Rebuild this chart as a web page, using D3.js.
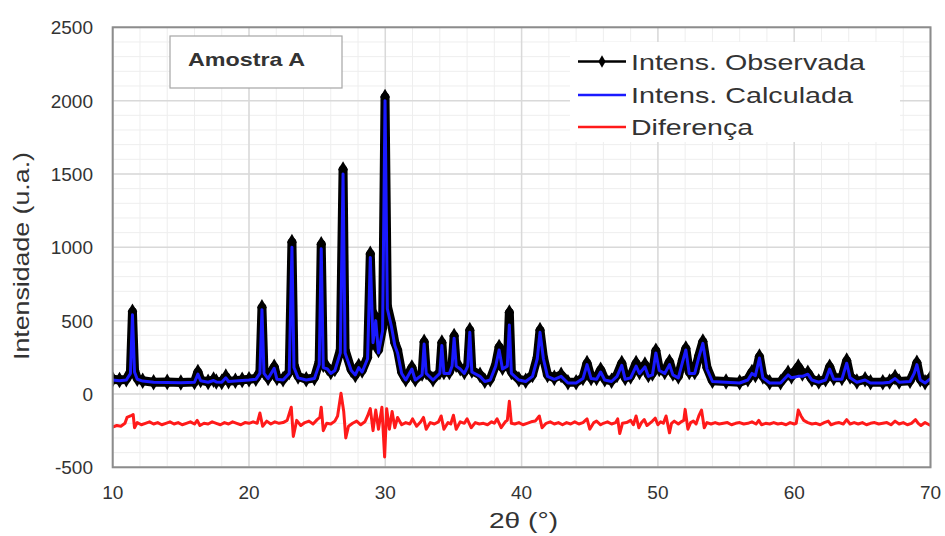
<!DOCTYPE html>
<meta charset="utf-8">
<head>
  <script src="https://d3js.org/d3.v7.min.js"></script>
  <style>
    body { margin: 0; background: #fff; }
    text { font-family: "Liberation Sans", Arial, sans-serif; fill: #333; }
  </style>
</head>
<body>
<div id="container"></div>
<script>
// 2theta positions and intensities
var theta = [
  10.0, 10.5, 11.0, 11.3, 11.45, 11.6, 11.8, 12.2, 13.0, 14.0,
  15.0, 16.0, 16.25, 16.45, 17.0, 17.4, 17.6, 18.0, 18.3, 18.5,
  19.0, 19.5, 20.0, 20.5, 20.8, 20.95, 21.1, 21.4, 21.85, 22.05,
  22.5, 22.95, 23.15, 23.3, 23.6, 24.2, 24.8, 25.15, 25.3, 25.45,
  25.75, 26.0, 26.3, 26.7, 26.9, 27.05, 27.5, 27.8, 28.05, 28.3,
  28.7, 28.9, 29.1, 29.3, 29.5, 29.8, 29.98, 30.15, 30.45, 30.7,
  30.9, 31.2, 31.5, 31.95, 32.2, 32.7, 32.85, 33.0, 33.5, 34.0,
  34.15, 34.3, 34.7, 34.9, 35.05, 35.2, 35.5, 35.8, 36.05, 36.2,
  36.35, 36.95, 37.3, 37.7, 38.1, 38.35, 38.6, 38.95, 39.1, 39.25,
  39.8, 40.3, 40.8, 41.15, 41.35, 41.6, 41.9, 42.4, 42.9, 43.4,
  44.0, 44.5, 44.8, 45.1, 45.5, 45.8, 46.1, 46.6, 47.0, 47.35,
  47.6, 48.0, 48.4, 48.65, 49.05, 49.3, 49.6, 49.85, 50.1, 50.5,
  50.85, 51.1, 51.5, 51.8, 52.05, 52.3, 52.7, 53.0, 53.3, 53.6,
  54.0, 55.0, 56.0, 56.6, 56.9, 57.15, 57.45, 57.7, 58.2, 59.0,
  59.55, 59.8, 60.3, 60.6, 61.0, 61.3, 61.8, 62.3, 62.6, 62.9,
  63.5, 63.85, 64.1, 64.6, 65.2, 65.6, 66.5, 67.0, 67.4, 67.7,
  68.5, 68.8, 69.0, 69.25, 69.6, 70.0
];
var observed = [
  100, 95, 100, 150, 560, 160, 105, 90, 80, 82,
  78, 82, 150, 95, 82, 98, 85, 82, 118, 88,
  90, 96, 100, 105, 150, 590, 150, 110, 185, 110,
  100, 150, 1035, 200, 120, 100, 110, 220, 1020, 200,
  180, 150, 170, 300, 1530, 300, 165, 130, 190, 160,
  250, 955, 350, 525, 300, 450, 2025, 600, 480, 350,
  300, 150, 100, 180, 100, 140, 355, 150, 100, 150,
  350, 150, 150, 200, 395, 200, 175, 150, 200, 435,
  160, 130, 90, 100, 200, 320, 180, 200, 555, 150,
  100, 90, 130, 250, 435, 250, 130, 110, 130, 80,
  80, 110, 210, 110, 110, 165, 100, 90, 130, 210,
  110, 120, 210, 150, 200, 130, 140, 295, 170, 150,
  220, 140, 120, 230, 310, 150, 150, 260, 357, 180,
  90, 85, 80, 100, 150, 130, 255, 120, 80, 80,
  145, 120, 186, 140, 145, 100, 85, 100, 185, 110,
  110, 227, 120, 85, 100, 80, 80, 85, 115, 85,
  90, 150, 213, 100, 80, 110
];
var calculated = [
  95, 90, 95, 140, 540, 150, 100, 88, 80, 78,
  76, 80, 135, 90, 80, 92, 82, 80, 110, 85,
  88, 92, 95, 100, 140, 575, 140, 105, 175, 100,
  95, 140, 1000, 180, 110, 95, 105, 200, 990, 180,
  170, 140, 160, 280, 1500, 280, 160, 130, 180, 150,
  240, 930, 350, 500, 280, 430, 2000, 580, 460, 330,
  280, 140, 95, 170, 95, 130, 340, 140, 95, 140,
  330, 140, 140, 190, 380, 190, 170, 140, 190, 420,
  150, 120, 85, 95, 190, 300, 170, 190, 470, 140,
  95, 85, 120, 240, 420, 240, 120, 100, 120, 75,
  75, 105, 200, 105, 100, 150, 95, 85, 120, 195,
  100, 110, 190, 140, 185, 120, 130, 280, 160, 140,
  200, 130, 110, 215, 300, 140, 140, 250, 345, 170,
  85, 80, 75, 95, 140, 125, 245, 110, 75, 75,
  130, 110, 120, 120, 135, 95, 80, 95, 170, 100,
  100, 210, 110, 80, 95, 75, 75, 80, 105, 80,
  85, 140, 200, 95, 75, 105
];

// difference curve (drawn offset below zero)
var diffTheta = [
  10.0, 10.3, 10.6, 10.9, 11.05, 11.3, 11.5, 11.6, 11.8, 12.1,
  12.4, 12.7, 13.0, 13.3, 13.6, 13.9, 14.2, 14.5, 14.8, 15.1,
  15.4, 15.7, 16.0, 16.2, 16.4, 16.7, 17.0, 17.3, 17.6, 17.9,
  18.2, 18.5, 18.8, 19.1, 19.4, 19.7, 20.0, 20.3, 20.6, 20.8,
  21.0, 21.3, 21.6, 21.9, 22.2, 22.5, 22.8, 23.1, 23.25, 23.5,
  23.8, 24.1, 24.4, 24.7, 25.0, 25.2, 25.3, 25.45, 25.7, 26.0,
  26.3, 26.5, 26.75, 26.95, 27.1, 27.3, 27.6, 27.9, 28.2, 28.5,
  28.7, 28.9, 29.1, 29.3, 29.5, 29.75, 29.95, 30.1, 30.3, 30.5,
  30.7, 30.9, 31.2, 31.5, 31.8, 32.0, 32.3, 32.6, 32.8, 33.0,
  33.3, 33.6, 33.9, 34.1, 34.3, 34.6, 34.8, 35.0, 35.2, 35.5,
  35.8, 36.0, 36.3, 36.6, 36.9, 37.2, 37.5, 37.8, 38.0, 38.2,
  38.5, 38.8, 38.95, 39.1, 39.25, 39.5, 39.8, 40.1, 40.4, 40.7,
  41.0, 41.3, 41.5, 41.8, 42.1, 42.4, 42.7, 43.0, 43.3, 43.6,
  43.9, 44.2, 44.5, 44.8, 45.0, 45.3, 45.5, 45.8, 46.0, 46.3,
  46.6, 46.9, 47.05, 47.2, 47.4, 47.7, 48.0, 48.2, 48.4, 48.6,
  48.8, 49.0, 49.2, 49.4, 49.6, 49.8, 50.0, 50.2, 50.4, 50.6,
  50.85, 51.0, 51.2, 51.5, 51.7, 51.9, 52.0, 52.2, 52.4, 52.6,
  52.8, 53.0, 53.2, 53.4, 53.6, 53.9, 54.2, 54.5, 54.8, 55.1,
  55.4, 55.7, 56.0, 56.3, 56.6, 56.9, 57.2, 57.4, 57.6, 57.9,
  58.2, 58.5, 58.8, 59.1, 59.4, 59.7, 60.0, 60.15, 60.3, 60.5,
  60.7, 61.0, 61.3, 61.6, 61.9, 62.2, 62.5, 62.7, 63.0, 63.3,
  63.6, 63.85, 64.1, 64.4, 64.7, 65.0, 65.3, 65.6, 65.9, 66.2,
  66.5, 66.8, 67.1, 67.4, 67.7, 68.0, 68.3, 68.6, 68.9, 69.1,
  69.3, 69.6, 69.8, 70.0
];
var difference = [
  -225, -215, -220, -200, -160, -150, -140, -230, -195, -210,
  -200, -190, -205, -195, -210, -200, -190, -205, -195, -210,
  -200, -190, -205, -180, -215, -200, -205, -190, -200, -210,
  -195, -205, -190, -200, -210, -195, -200, -190, -200, -130,
  -220, -185, -205, -190, -200, -195, -180, -90, -290, -180,
  -215, -195, -185, -205, -175, -160, -90, -250, -200, -205,
  -185, -150, 5, -120, -300, -220, -200, -185, -210, -190,
  -150, -100, -250, -110, -240, -90, -430, -100, -240, -120,
  -230, -160, -210, -195, -205, -170, -220, -190, -160, -240,
  -195, -205, -190, -150, -240, -195, -205, -145, -240, -190,
  -200, -170, -230, -195, -205, -200, -210, -190, -200, -170,
  -230, -190, -180, -50, -200, -205, -195, -210, -200, -190,
  -185, -150, -230, -200, -190, -205, -195, -210, -195, -205,
  -190, -205, -195, -170, -240, -195, -185, -210, -200, -190,
  -205, -195, -170, -270, -200, -195, -180, -210, -150, -230,
  -195, -175, -215, -200, -185, -165, -210, -190, -200, -150,
  -265, -200, -185, -205, -190, -180, -105, -240, -195, -185,
  -205, -150, -110, -230, -195, -205, -195, -205, -200, -195,
  -210, -200, -195, -205, -200, -190, -205, -180, -210, -200,
  -205, -195, -205, -200, -210, -195, -205, -200, -110, -150,
  -180, -195, -205, -200, -210, -195, -185, -210, -200, -195,
  -205, -175, -205, -195, -205, -195, -210, -200, -195, -205,
  -200, -195, -210, -185, -205, -195, -210, -200, -175, -200,
  -215, -195, -205, -215
];

var xTicks = [10, 20, 30, 40, 50, 60, 70];
var yTicks = [-500, 0, 500, 1000, 1500, 2000, 2500];
var legendNames = ["Intens. Observada", "Intens. Calculada", "Diferença"];
var legendColors = ["#000000", "#1a1aff", "#ff1a1a"];

var width = 945, height = 536;
var plotLeft = 112.7, plotRight = 930.5, plotTop = 27.3, plotBottom = 467.3;

var svg = d3.select("#container").append("svg")
  .attr("width", width)
  .attr("height", height);

var x = d3.scaleLinear().domain([10, 70]).range([plotLeft, plotRight]);
var y = d3.scaleLinear().domain([-500, 2500]).range([plotBottom, plotTop]);

svg.append("defs").append("clipPath").attr("id", "plotClip")
  .append("rect")
  .attr("x", plotLeft).attr("y", plotTop)
  .attr("width", plotRight - plotLeft).attr("height", plotBottom - plotTop);

// minor then major grid
var grid = svg.append("g");
grid.selectAll(".vminor").data(d3.range(12, 70, 2))
  .enter().append("line")
  .attr("x1", d => x(d)).attr("x2", d => x(d))
  .attr("y1", plotTop).attr("y2", plotBottom)
  .attr("stroke", "#eeeeee").attr("stroke-width", 1);
grid.selectAll(".hminor").data(d3.range(-400, 2500, 100))
  .enter().append("line")
  .attr("y1", d => y(d)).attr("y2", d => y(d))
  .attr("x1", plotLeft).attr("x2", plotRight)
  .attr("stroke", "#eeeeee").attr("stroke-width", 1);
grid.selectAll(".vmajor").data(xTicks)
  .enter().append("line")
  .attr("x1", d => x(d)).attr("x2", d => x(d))
  .attr("y1", plotTop).attr("y2", plotBottom)
  .attr("stroke", "#d9d9d9").attr("stroke-width", 1.5);
grid.selectAll(".hmajor").data(yTicks)
  .enter().append("line")
  .attr("y1", d => y(d)).attr("y2", d => y(d))
  .attr("x1", plotLeft).attr("x2", plotRight)
  .attr("stroke", "#d9d9d9").attr("stroke-width", 1.5);

// sample label box and legend background
svg.append("rect")
  .attr("x", 170).attr("y", 36).attr("width", 172).attr("height", 52)
  .attr("fill", "#fff").attr("stroke", "#a6a6a6").attr("stroke-width", 1.2);
svg.append("text")
  .attr("x", 188).attr("y", 66)
  .attr("font-size", 19).attr("font-weight", "bold")
  .attr("textLength", 117).attr("lengthAdjust", "spacingAndGlyphs")
  .attr("fill", "#222")
  .text("Amostra A");

svg.append("rect")
  .attr("x", 570).attr("y", 42).attr("width", 330).attr("height", 100)
  .attr("fill", "#fff");

// series
var plot = svg.append("g").attr("clip-path", "url(#plotClip)");
var obsPts = theta.map((t, i) => [t, observed[i]]);
var calcPts = theta.map((t, i) => [t, calculated[i]]);
var diffPts = diffTheta.map((t, i) => [t, difference[i]]);

var line = d3.line().x(d => x(d[0])).y(d => y(d[1]));

plot.append("path").datum(obsPts)
  .attr("d", line)
  .attr("fill", "none").attr("stroke", "#000")
  .attr("stroke-width", 9).attr("stroke-linejoin", "round");
plot.selectAll(".obs").data(obsPts)
  .enter().append("path")
  .attr("transform", d => "translate(" + x(d[0]) + "," + y(d[1]) + ")")
  .attr("d", d3.symbol().type(d3.symbolDiamond).size(80))
  .attr("fill", "#000");
plot.append("path").datum(calcPts)
  .attr("d", line)
  .attr("fill", "none").attr("stroke", legendColors[1])
  .attr("stroke-width", 3).attr("stroke-linejoin", "round");
plot.append("path").datum(diffPts)
  .attr("d", line)
  .attr("fill", "none").attr("stroke", legendColors[2])
  .attr("stroke-width", 3).attr("stroke-linejoin", "round");

// frame
svg.append("rect")
  .attr("x", plotLeft).attr("y", plotTop)
  .attr("width", plotRight - plotLeft).attr("height", plotBottom - plotTop)
  .attr("fill", "none").attr("stroke", "#8c8c8c").attr("stroke-width", 2);

// tick labels
svg.selectAll(".xt").data(xTicks)
  .enter().append("text")
  .attr("x", d => x(d)).attr("y", 499)
  .attr("text-anchor", "middle")
  .attr("font-size", 19)
  .text(d => d);
svg.selectAll(".yt").data(yTicks)
  .enter().append("text")
  .attr("x", 93).attr("y", d => y(d) + 7)
  .attr("text-anchor", "end")
  .attr("font-size", 19)
  .text(d => d);

// axis titles
svg.append("text")
  .attr("x", 489).attr("y", 528)
  .attr("font-size", 22)
  .attr("textLength", 69).attr("lengthAdjust", "spacingAndGlyphs")
  .text("2θ (°)");
svg.append("text")
  .attr("transform", "translate(29,360) rotate(-90)")
  .attr("font-size", 22)
  .attr("textLength", 208).attr("lengthAdjust", "spacingAndGlyphs")
  .text("Intensidade (u.a.)");

// legend
var rows = [61.5, 95, 127];
var widths = [234, 222, 122];
var lg = svg.append("g");
legendNames.forEach(function (name, i) {
  lg.append("line")
    .attr("x1", 578).attr("x2", 626)
    .attr("y1", rows[i]).attr("y2", rows[i])
    .attr("stroke", legendColors[i]).attr("stroke-width", 2.5);
  if (i === 0) {
    lg.append("path")
      .attr("transform", "translate(602," + rows[i] + ")")
      .attr("d", d3.symbol().type(d3.symbolDiamond).size(45))
      .attr("fill", "#000");
  }
  lg.append("text")
    .attr("x", 631).attr("y", rows[i] + 8)
    .attr("font-size", 22)
    .attr("textLength", widths[i]).attr("lengthAdjust", "spacingAndGlyphs")
    .text(name);
});
</script>
</body>
